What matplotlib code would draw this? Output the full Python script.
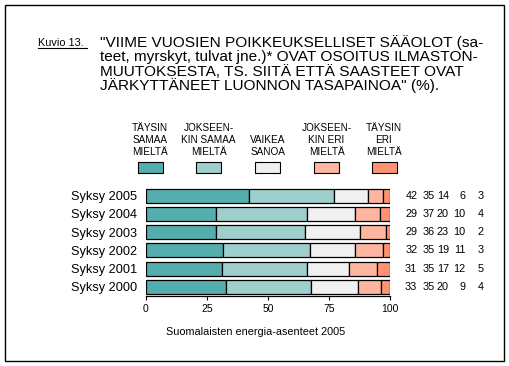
import matplotlib
matplotlib.use("Agg")
import matplotlib.pyplot as plt
from matplotlib.patches import Rectangle
from matplotlib.transforms import blended_transform_factory
from matplotlib.lines import Line2D

plt.rcParams['font.family'] = ['Liberation Sans', 'DejaVu Sans']

W, H = 509, 366

categories = ["Syksy 2000", "Syksy 2001", "Syksy 2002", "Syksy 2003", "Syksy 2004", "Syksy 2005"]
# bar lengths (%)
taysin_samaa = [32.7, 31.1, 31.7, 28.9, 28.9, 42.1]
jokseenkin_samaa = [34.7, 35.0, 35.3, 36.1, 37.2, 34.8]
vaikea_sanoa = [19.5, 16.9, 18.7, 22.7, 19.6, 14.1]
jokseenkin_eri = [9.1, 11.7, 11.4, 10.4, 10.2, 5.9]
taysin_eri = [4.0, 5.3, 2.9, 1.9, 4.1, 3.1]
# numbers printed on the right
shown = {
    "Syksy 2000": [33, 35, 20, 9, 4],
    "Syksy 2001": [31, 35, 17, 12, 5],
    "Syksy 2002": [32, 35, 19, 11, 3],
    "Syksy 2003": [29, 36, 23, 10, 2],
    "Syksy 2004": [29, 37, 20, 10, 4],
    "Syksy 2005": [42, 35, 14, 6, 3],
}
legend_labels = ["TÄYSIN\nSAMAA\nMIELTÄ", "JOKSEEN-\nKIN SAMAA\nMIELTÄ", "VAIKEA\nSANOA",
                 "JOKSEEN-\nKIN ERI\nMIELTÄ", "TÄYSIN\nERI\nMIELTÄ"]
colors = ["#55AEAE", "#9ECFCC", "#F0F0F0", "#FFB6A0", "#FF9272"]
xticks = [0, 25, 50, 75, 100]
title_lines = ['"VIIME VUOSIEN POIKKEUKSELLISET SÄÄOLOT (sa-',
               'teet, myrskyt, tulvat jne.)* OVAT OSOITUS ILMASTON-',
               'MUUTOKSESTA, TS. SIITÄ ETTÄ SAASTEET OVAT',
               'JÄRKYTTÄNEET LUONNON TASAPAINOA" (%).']
fig_label = "Kuvio 13."
subtitle = "Suomalaisten energia-asenteet 2005"

fig = plt.figure(figsize=(W / 100, H / 100), dpi=100)

def fx(px):
    return px / W

def fy(py):
    return 1 - py / H

# frame
fig.patches.append(Rectangle((fx(5), fy(361)), fx(504) - fx(5), fy(5) - fy(361),
                             transform=fig.transFigure, fill=False, edgecolor="black", linewidth=1.0))

# title
fig.text(fx(38), fy(45.5), fig_label, fontsize=7.8, ha="left", va="baseline")
fig.lines.append(Line2D([fx(38), fx(87)], [fy(47.5), fy(47.5)], transform=fig.transFigure,
                        color="black", linewidth=0.8))
for i, line in enumerate(title_lines):
    fig.text(fx(100), fy(46.7 + i * 14.4), line, fontsize=11.1, ha="left", va="baseline")

# legend
centers = [150, 208.7, 267.8, 326.5, 384]
for c, lab, col in zip(centers, legend_labels, colors):
    fig.text(fx(c), fy(157), lab, fontsize=7.2, ha="center", va="bottom", linespacing=1.25)
    fig.patches.append(Rectangle((fx(c - 12.5), fy(173)), fx(25), fy(162) - fy(173),
                                 transform=fig.transFigure, facecolor=col, edgecolor="black",
                                 linewidth=0.8))

# axes
unit = 18.26
ylo, yhi = -0.48, 5.5
ax_bottom_px = 295.7
ax_h_px = (yhi - ylo) * unit
ax = fig.add_axes([fx(145.7), 1 - ax_bottom_px / H, (390.3 - 145.7) / W, ax_h_px / H])
series = [taysin_samaa, jokseenkin_samaa, vaikea_sanoa, jokseenkin_eri, taysin_eri]
ypos = list(range(len(categories)))
left = [0.0] * len(categories)
for vals, col in zip(series, colors):
    ax.barh(ypos, vals, left=left, height=0.77, color=col, edgecolor="black", linewidth=0.9)
    left = [l + v for l, v in zip(left, vals)]

ax.set_xlim(0, 100)
ax.set_ylim(ylo, yhi)
ax.set_yticks(ypos)
ax.set_yticklabels(categories, fontsize=9.2)
ax.tick_params(axis="y", length=0, pad=6)
ax.set_xticks(xticks)
ax.set_xticklabels([str(t) for t in xticks], fontsize=7.5)
ax.tick_params(axis="x", length=3, width=0.8, pad=3.2, direction="out")
for s in ["top", "right", "left"]:
    ax.spines[s].set_visible(False)
ax.spines["bottom"].set_linewidth(0.9)
ax.patch.set_visible(False)

# right-side numbers
tr = blended_transform_factory(fig.transFigure, ax.transData)
col_right = [417.3, 435, 448.8, 465.5, 483.3]
for y, cat in zip(ypos, categories):
    for xr, v in zip(col_right, shown[cat]):
        ax.text(fx(xr), y, str(v), transform=tr, fontsize=7.8, ha="right", va="center")

fig.text(fx(255.7), fy(331.7), subtitle, fontsize=7.8, ha="center", va="center")

fig.savefig("out.png", dpi=100)
